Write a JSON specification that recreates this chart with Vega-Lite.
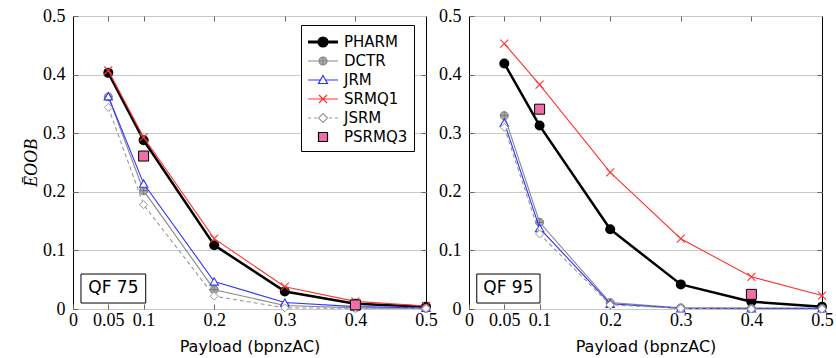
{
  "$schema": "https://vega.github.io/schema/vega-lite/v6.json",
  "autosize": {"type": "pad"},
  "padding": {"left": 22, "top": 6, "right": 0, "bottom": 0},
  "spacing": 0,
  "datasets": {
    "curves": [
      {"qf": 75, "series": "PHARM", "payload": 0.05, "e": 0.403},
      {"qf": 75, "series": "PHARM", "payload": 0.1, "e": 0.288},
      {"qf": 75, "series": "PHARM", "payload": 0.2, "e": 0.109},
      {"qf": 75, "series": "PHARM", "payload": 0.3, "e": 0.030},
      {"qf": 75, "series": "PHARM", "payload": 0.4, "e": 0.009},
      {"qf": 75, "series": "PHARM", "payload": 0.5, "e": 0.004},
      {"qf": 75, "series": "DCTR", "payload": 0.05, "e": 0.362},
      {"qf": 75, "series": "DCTR", "payload": 0.1, "e": 0.202},
      {"qf": 75, "series": "DCTR", "payload": 0.2, "e": 0.033},
      {"qf": 75, "series": "DCTR", "payload": 0.3, "e": 0.006},
      {"qf": 75, "series": "DCTR", "payload": 0.4, "e": 0.002},
      {"qf": 75, "series": "DCTR", "payload": 0.5, "e": 0.001},
      {"qf": 75, "series": "JRM", "payload": 0.05, "e": 0.363},
      {"qf": 75, "series": "JRM", "payload": 0.1, "e": 0.214},
      {"qf": 75, "series": "JRM", "payload": 0.2, "e": 0.047},
      {"qf": 75, "series": "JRM", "payload": 0.3, "e": 0.011},
      {"qf": 75, "series": "JRM", "payload": 0.4, "e": 0.004},
      {"qf": 75, "series": "JRM", "payload": 0.5, "e": 0.002},
      {"qf": 75, "series": "SRMQ1", "payload": 0.05, "e": 0.407},
      {"qf": 75, "series": "SRMQ1", "payload": 0.1, "e": 0.293},
      {"qf": 75, "series": "SRMQ1", "payload": 0.2, "e": 0.120},
      {"qf": 75, "series": "SRMQ1", "payload": 0.3, "e": 0.038},
      {"qf": 75, "series": "SRMQ1", "payload": 0.4, "e": 0.013},
      {"qf": 75, "series": "SRMQ1", "payload": 0.5, "e": 0.005},
      {"qf": 75, "series": "JSRM", "payload": 0.05, "e": 0.344},
      {"qf": 75, "series": "JSRM", "payload": 0.1, "e": 0.178},
      {"qf": 75, "series": "JSRM", "payload": 0.2, "e": 0.022},
      {"qf": 75, "series": "JSRM", "payload": 0.3, "e": 0.002},
      {"qf": 75, "series": "JSRM", "payload": 0.4, "e": 0.001},
      {"qf": 75, "series": "JSRM", "payload": 0.5, "e": 0.001},
      {"qf": 75, "series": "PSRMQ3", "payload": 0.1, "e": 0.261},
      {"qf": 75, "series": "PSRMQ3", "payload": 0.4, "e": 0.007},
      {"qf": 95, "series": "PHARM", "payload": 0.05, "e": 0.419},
      {"qf": 95, "series": "PHARM", "payload": 0.1, "e": 0.313},
      {"qf": 95, "series": "PHARM", "payload": 0.2, "e": 0.136},
      {"qf": 95, "series": "PHARM", "payload": 0.3, "e": 0.042},
      {"qf": 95, "series": "PHARM", "payload": 0.4, "e": 0.0125},
      {"qf": 95, "series": "PHARM", "payload": 0.5, "e": 0.004},
      {"qf": 95, "series": "DCTR", "payload": 0.05, "e": 0.330},
      {"qf": 95, "series": "DCTR", "payload": 0.1, "e": 0.148},
      {"qf": 95, "series": "DCTR", "payload": 0.2, "e": 0.011},
      {"qf": 95, "series": "DCTR", "payload": 0.3, "e": 0.002},
      {"qf": 95, "series": "DCTR", "payload": 0.4, "e": 0.001},
      {"qf": 95, "series": "DCTR", "payload": 0.5, "e": 0.001},
      {"qf": 95, "series": "JRM", "payload": 0.05, "e": 0.318},
      {"qf": 95, "series": "JRM", "payload": 0.1, "e": 0.138},
      {"qf": 95, "series": "JRM", "payload": 0.2, "e": 0.009},
      {"qf": 95, "series": "JRM", "payload": 0.3, "e": 0.001},
      {"qf": 95, "series": "JRM", "payload": 0.4, "e": 0.001},
      {"qf": 95, "series": "JRM", "payload": 0.5, "e": 0.001},
      {"qf": 95, "series": "SRMQ1", "payload": 0.05, "e": 0.453},
      {"qf": 95, "series": "SRMQ1", "payload": 0.1, "e": 0.383},
      {"qf": 95, "series": "SRMQ1", "payload": 0.2, "e": 0.233},
      {"qf": 95, "series": "SRMQ1", "payload": 0.3, "e": 0.120},
      {"qf": 95, "series": "SRMQ1", "payload": 0.4, "e": 0.055},
      {"qf": 95, "series": "SRMQ1", "payload": 0.5, "e": 0.023},
      {"qf": 95, "series": "JSRM", "payload": 0.05, "e": 0.310},
      {"qf": 95, "series": "JSRM", "payload": 0.1, "e": 0.128},
      {"qf": 95, "series": "JSRM", "payload": 0.2, "e": 0.007},
      {"qf": 95, "series": "JSRM", "payload": 0.3, "e": 0.001},
      {"qf": 95, "series": "JSRM", "payload": 0.4, "e": 0.0},
      {"qf": 95, "series": "JSRM", "payload": 0.5, "e": 0.0},
      {"qf": 95, "series": "PSRMQ3", "payload": 0.1, "e": 0.341},
      {"qf": 95, "series": "PSRMQ3", "payload": 0.4, "e": 0.025}
    ],
    "labels75": [{"label": "QF 75"}],
    "labels95": [{"label": "QF 95"}]
  },
  "hconcat": [
    {
      "width": 353,
      "height": 293,
      "data": {"name": "curves"},
      "transform": [{"filter": "datum.qf == 75"}],
      "resolve": {"axis": {"x": "independent", "y": "independent"}},
      "layer": [
        {
          "encoding": {
            "x": {"field": "payload", "type": "quantitative", "scale": {"domain": [0, 0.5], "nice": false},
              "axis": {"orient": "bottom", "values": [0, 0.05, 0.1, 0.2, 0.3, 0.4, 0.5], "format": "~g", "title": "Payload (bpnzAC)", "labelFlush": false, "labelOverlap": false, "labelPadding": 7, "tickSize": -5, "titlePadding": 9}},
            "y": {"field": "e", "type": "quantitative", "scale": {"domain": [0, 0.5], "nice": false},
              "axis": {"orient": "left", "values": [0, 0.1, 0.2, 0.3, 0.4, 0.5], "format": "~g", "grid": true, "gridColor": "#c8c8c8", "title": "ĒOOB", "titleFont": "Liberation Serif", "titleFontStyle": "italic", "titleFontSize": 18, "titlePadding": 2, "labelPadding": 13, "tickSize": -5}}
          },
          "layer": [
            {"transform": [{"filter": "datum.series == 'PHARM'"}], "mark": {"type": "line", "color": "black", "strokeWidth": 2.5, "strokeJoin": "round"}},
            {"transform": [{"filter": "datum.series == 'PHARM'"}], "mark": {"type": "point", "shape": "circle", "filled": true, "color": "black", "size": 100, "opacity": 1}},
            {"transform": [{"filter": "datum.series == 'DCTR'"}], "mark": {"type": "line", "color": "#888888", "strokeWidth": 1.1}},
            {"transform": [{"filter": "datum.series == 'DCTR'"}], "mark": {"type": "point", "shape": "M1,0A1,1 0 1,1 -1,0A1,1 0 1,1 1,0ZM-1,0L1,0M0,-1L0,1", "fill": "#aaaaaa", "stroke": "#7a7a7a", "strokeWidth": 1, "size": 64, "opacity": 1}},
            {"transform": [{"filter": "datum.series == 'JRM'"}], "mark": {"type": "line", "color": "#3333ff", "strokeWidth": 1.1}},
            {"transform": [{"filter": "datum.series == 'JRM'"}], "mark": {"type": "point", "shape": "triangle-up", "fill": "white", "stroke": "#3333ff", "strokeWidth": 1.1, "size": 70, "opacity": 1}},
            {"transform": [{"filter": "datum.series == 'SRMQ1'"}], "mark": {"type": "line", "color": "#ff3333", "strokeWidth": 1.1}},
            {"transform": [{"filter": "datum.series == 'SRMQ1'"}], "mark": {"type": "point", "shape": "M-1,-1L1,1M-1,1L1,-1", "filled": false, "stroke": "#ff3333", "strokeWidth": 1.1, "size": 64, "opacity": 1}},
            {"transform": [{"filter": "datum.series == 'JSRM'"}], "mark": {"type": "line", "color": "#999999", "strokeWidth": 1.1, "strokeDash": [4, 3]}},
            {"transform": [{"filter": "datum.series == 'JSRM'"}], "mark": {"type": "point", "shape": "diamond", "fill": "white", "stroke": "#999999", "strokeWidth": 1, "size": 64, "opacity": 1}},
            {"transform": [{"filter": "datum.series == 'PSRMQ3'"}], "mark": {"type": "point", "shape": "square", "fill": "#f06fa8", "stroke": "black", "strokeWidth": 1, "size": 100, "opacity": 1}}
          ]
        },
        {
          "data": {"name": "labels75"},
          "mark": {"type": "rect", "fill": "white", "stroke": "black", "strokeWidth": 1},
          "encoding": {
            "x": {"datum": 0.0113, "type": "quantitative", "axis": null},
            "x2": {"datum": 0.103},
            "y": {"datum": 0.0102, "type": "quantitative", "axis": null},
            "y2": {"datum": 0.0597}
          }
        },
        {
          "data": {"name": "labels75"},
          "mark": {"type": "text", "font": "DejaVu Sans", "fontSize": 17, "color": "black", "align": "center", "baseline": "middle"},
          "encoding": {
            "x": {"datum": 0.0572, "type": "quantitative", "axis": null},
            "y": {"datum": 0.035, "type": "quantitative", "axis": null},
            "text": {"field": "label"}
          }
        },
        {
          "transform": [{"filter": "false"}],
          "mark": {"type": "point", "filled": true, "size": 400, "strokeWidth": 1.2, "opacity": 1},
          "encoding": {
            "x": {"field": "payload", "type": "quantitative", "axis": {"orient": "top", "values": [0.05, 0.1, 0.2, 0.3, 0.4], "labels": false, "title": null, "grid": false, "domain": false, "tickSize": -5}},
            "y": {"field": "e", "type": "quantitative", "axis": {"orient": "right", "values": [0.1, 0.2, 0.3, 0.4], "labels": false, "title": null, "grid": false, "domain": false, "tickSize": -5}},
            "shape": {"field": "series", "type": "nominal",
              "scale": {"domain": ["PHARM", "DCTR", "JRM", "SRMQ1", "JSRM", "PSRMQ3"],
                "range": [
                  "M-1.5,-0.08L1.5,-0.08M-1.5,0L1.5,0M-1.5,0.08L1.5,0.08M0.5,0A0.5,0.5 0 1,1 -0.5,0A0.5,0.5 0 1,1 0.5,0Z",
                  "M-1.5,0L-0.4,0M0.4,0L1.5,0M0.4,0A0.4,0.4 0 1,1 -0.4,0A0.4,0.4 0 1,1 0.4,0ZM-0.4,0L0.4,0M0,-0.4L0,0.4",
                  "M-1.5,0L-0.27,0M0.27,0L1.5,0M0,-0.45L0.45,0.35L-0.45,0.35Z",
                  "M-1.5,0L1.5,0M-0.4,-0.4L0.4,0.4M-0.4,0.4L0.4,-0.4",
                  "M-1.5,0L-1.2,0M-0.9,0L-0.6,0M0.6,0L0.9,0M1.2,0L1.5,0M0,-0.45L0.45,0L0,0.45L-0.45,0Z",
                  "M-0.45,-0.45L0.45,-0.45L0.45,0.45L-0.45,0.45Z"
                ]},
              "legend": {"title": null, "orient": "none", "legendX": 228, "legendY": 9, "symbolOpacity": 1}},
            "stroke": {"field": "series", "type": "nominal",
              "scale": {"domain": ["PHARM", "DCTR", "JRM", "SRMQ1", "JSRM", "PSRMQ3"], "range": ["black", "#888888", "#3333ff", "#ff3333", "#999999", "black"]},
              "legend": {"title": null, "orient": "none", "legendX": 228, "legendY": 9, "symbolOpacity": 1}},
            "fill": {"field": "series", "type": "nominal",
              "scale": {"domain": ["PHARM", "DCTR", "JRM", "SRMQ1", "JSRM", "PSRMQ3"], "range": ["black", "#aaaaaa", "white", "transparent", "white", "#f06fa8"]},
              "legend": {"title": null, "orient": "none", "legendX": 228, "legendY": 9, "symbolOpacity": 1}}
          }
        }
      ]
    },
    {
      "width": 353,
      "height": 293,
      "data": {"name": "curves"},
      "transform": [{"filter": "datum.qf == 95"}],
      "resolve": {"axis": {"x": "independent", "y": "independent"}},
      "layer": [
        {
          "encoding": {
            "x": {"field": "payload", "type": "quantitative", "scale": {"domain": [0, 0.5], "nice": false},
              "axis": {"orient": "bottom", "values": [0, 0.05, 0.1, 0.2, 0.3, 0.4, 0.5], "format": "~g", "title": "Payload (bpnzAC)", "labelFlush": false, "labelOverlap": false, "labelPadding": 7, "tickSize": -5, "titlePadding": 9}},
            "y": {"field": "e", "type": "quantitative", "scale": {"domain": [0, 0.5], "nice": false},
              "axis": {"orient": "left", "values": [0, 0.1, 0.2, 0.3, 0.4, 0.5], "format": "~g", "grid": true, "gridColor": "#c8c8c8", "title": null, "labelPadding": 13, "tickSize": -5}}
          },
          "layer": [
            {"transform": [{"filter": "datum.series == 'PHARM'"}], "mark": {"type": "line", "color": "black", "strokeWidth": 2.5, "strokeJoin": "round"}},
            {"transform": [{"filter": "datum.series == 'PHARM'"}], "mark": {"type": "point", "shape": "circle", "filled": true, "color": "black", "size": 100, "opacity": 1}},
            {"transform": [{"filter": "datum.series == 'DCTR'"}], "mark": {"type": "line", "color": "#888888", "strokeWidth": 1.1}},
            {"transform": [{"filter": "datum.series == 'DCTR'"}], "mark": {"type": "point", "shape": "M1,0A1,1 0 1,1 -1,0A1,1 0 1,1 1,0ZM-1,0L1,0M0,-1L0,1", "fill": "#aaaaaa", "stroke": "#7a7a7a", "strokeWidth": 1, "size": 64, "opacity": 1}},
            {"transform": [{"filter": "datum.series == 'JRM'"}], "mark": {"type": "line", "color": "#3333ff", "strokeWidth": 1.1}},
            {"transform": [{"filter": "datum.series == 'JRM'"}], "mark": {"type": "point", "shape": "triangle-up", "fill": "white", "stroke": "#3333ff", "strokeWidth": 1.1, "size": 70, "opacity": 1}},
            {"transform": [{"filter": "datum.series == 'SRMQ1'"}], "mark": {"type": "line", "color": "#ff3333", "strokeWidth": 1.1}},
            {"transform": [{"filter": "datum.series == 'SRMQ1'"}], "mark": {"type": "point", "shape": "M-1,-1L1,1M-1,1L1,-1", "filled": false, "stroke": "#ff3333", "strokeWidth": 1.1, "size": 64, "opacity": 1}},
            {"transform": [{"filter": "datum.series == 'JSRM'"}], "mark": {"type": "line", "color": "#999999", "strokeWidth": 1.1, "strokeDash": [4, 3]}},
            {"transform": [{"filter": "datum.series == 'JSRM'"}], "mark": {"type": "point", "shape": "diamond", "fill": "white", "stroke": "#999999", "strokeWidth": 1, "size": 64, "opacity": 1}},
            {"transform": [{"filter": "datum.series == 'PSRMQ3'"}], "mark": {"type": "point", "shape": "square", "fill": "#f06fa8", "stroke": "black", "strokeWidth": 1, "size": 100, "opacity": 1}}
          ]
        },
        {
          "data": {"name": "labels95"},
          "mark": {"type": "rect", "fill": "white", "stroke": "black", "strokeWidth": 1},
          "encoding": {
            "x": {"datum": 0.011, "type": "quantitative", "axis": null},
            "x2": {"datum": 0.1006},
            "y": {"datum": 0.0102, "type": "quantitative", "axis": null},
            "y2": {"datum": 0.0597}
          }
        },
        {
          "data": {"name": "labels95"},
          "mark": {"type": "text", "font": "DejaVu Sans", "fontSize": 17, "color": "black", "align": "center", "baseline": "middle"},
          "encoding": {
            "x": {"datum": 0.0558, "type": "quantitative", "axis": null},
            "y": {"datum": 0.035, "type": "quantitative", "axis": null},
            "text": {"field": "label"}
          }
        },
        {
          "transform": [{"filter": "false"}],
          "mark": {"type": "point", "opacity": 0},
          "encoding": {
            "x": {"field": "payload", "type": "quantitative", "axis": {"orient": "top", "values": [0.05, 0.1, 0.2, 0.3, 0.4], "labels": false, "title": null, "grid": false, "domain": false, "tickSize": -5}},
            "y": {"field": "e", "type": "quantitative", "axis": {"orient": "right", "values": [0.1, 0.2, 0.3, 0.4], "labels": false, "title": null, "grid": false, "domain": false, "tickSize": -5}}
          }
        }
      ]
    }
  ],
  "config": {
    "view": {"stroke": "black", "strokeWidth": 1},
    "axis": {
      "grid": false,
      "domain": false,
      "labelFont": "Liberation Serif",
      "labelFontSize": 18,
      "labelColor": "black",
      "titleFont": "DejaVu Sans",
      "titleFontSize": 16,
      "titleFontWeight": "normal",
      "titleColor": "black",
      "tickColor": "#666666",
      "tickWidth": 1
    },
    "legend": {
      "padding": 6,
      "strokeColor": "black",
      "fillColor": "white",
      "cornerRadius": 0,
      "symbolSize": 400,
      "symbolStrokeWidth": 1.2,
      "symbolOffset": 5,
      "labelFont": "DejaVu Sans",
      "labelFontSize": 15,
      "labelColor": "black",
      "labelOffset": 10,
      "rowPadding": 0
    }
  }
}
